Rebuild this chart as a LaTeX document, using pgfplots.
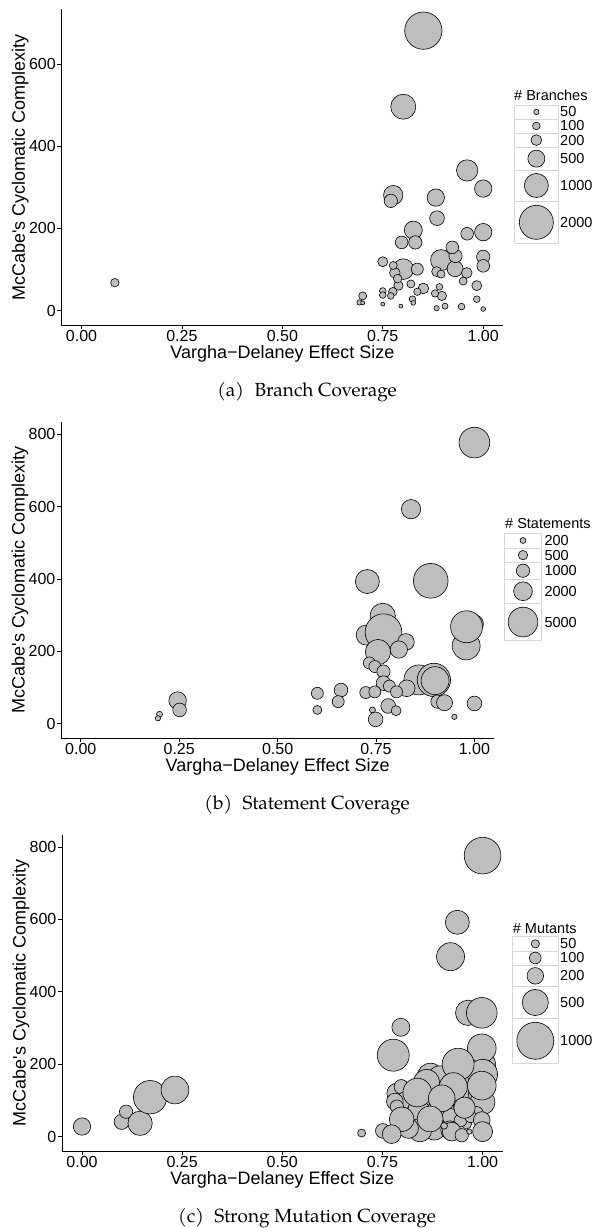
\documentclass[border=0pt]{standalone}
\usepackage{fontspec}
\setmainfont{Liberation Sans}
\IfFontExistsTF{TeX Gyre Pagella}{\newfontfamily\capfont{TeX Gyre Pagella}}{\newfontfamily\capfont{Liberation Serif}}
\usepackage{pgfplots}
\pgfplotsset{compat=1.18}
\usepackage{pgfplotstable}

\definecolor{bub}{HTML}{BEBEBE}
\definecolor{keyb}{HTML}{D6D6D6}
\newcommand\legfont{\fontsize{14.5}{17}\selectfont}
\newcommand\capt[1]{\capfont\fontsize{19}{23}\selectfont #1}

\pgfplotsset{
  panel/.style={
    scale only axis, anchor=south west,
    axis lines=left,
    axis line style={-, black, line width=0.9pt},
    xmin=-0.05, xmax=1.05,
    xtick={0,0.25,0.5,0.75,1},
    xticklabels={0.00,0.25,0.50,0.75,1.00},
    tick align=outside,
    major tick length=4pt,
    tick style={black, line width=0.7pt},
    tick label style={font=\fontsize{16}{18}\selectfont, text=black},
    xticklabel style={inner sep=1pt},
    yticklabel style={inner sep=1.5pt},
    xlabel={Vargha−Delaney Effect Size},
    ylabel={McCabe\textquotesingle s Cyclomatic Complexity},
    label style={font=\fontsize{18}{21}\selectfont},
  },
  bubble/.style={
    scatter, only marks, mark=*,
    scatter/use mapped color={draw=black, fill=bub},
    mark options={line width=0.6pt},
    visualization depends on={#1*sqrt(\thisrow{v}) \as \perpointmarksize},
    scatter/@pre marker code/.append style={/tikz/mark size=\perpointmarksize},
  },
  legax/.style={scale only axis, hide axis, clip=false, anchor=south west},
}

\pgfplotstableread{
x y v
0.851 681 2410
0.801 496 1082
0.960 341 786
0.895 123 763
0.801 101 740
0.776 281 647
0.826 196 561
1.000 297 520
0.882 275 520
1.000 191 520
0.930 102 443
0.885 225 373
0.770 267 307
0.831 166 307
0.931 133 307
1.000 131 307
0.960 187 278
0.797 166 278
0.923 154 278
1.000 109 278
0.836 101 249
0.780 92 197
0.959 92 197
0.851 54 197
0.750 119 173
0.884 95 173
0.984 61 173
0.789 61 150
0.897 36 150
0.787 78 130
0.775 46 130
0.776 110 111
0.895 89 111
0.820 65 111
0.950 72 111
0.700 36 111
0.083 68 125
0.836 46 93
0.880 42 93
0.891 58 77
0.750 48 77
0.750 38 77
0.770 36 77
0.824 28 77
0.946 10 77
0.984 28 77
0.905 11 62
0.692 20 49
0.884 6 49
0.826 19 38
1.000 4 38
0.700 19 28
0.750 16 28
0.795 11 28
}\dataA

\pgfplotstableread{
x y v
1.000 777 5340
0.839 593 2110
0.728 393 3265
0.889 395 6820
0.767 298 3630
0.725 245 2268
0.769 253 7630
0.755 198 3630
0.826 226 1580
0.808 205 1700
0.979 215 4440
1.000 276 1840
0.980 268 5800
0.733 168 816
0.747 158 816
0.769 144 1000
0.859 121 5100
0.897 121 6300
0.900 119 4440
0.769 112 1220
0.784 104 816
0.828 98 1580
0.802 88 816
0.724 86 816
0.747 88 816
0.906 61 1000
0.924 58 1450
1.000 56 1220
0.781 49 1220
0.801 36 567
0.741 38 204
0.749 12 1220
0.949 19 160
0.601 84 816
0.601 38 460
0.661 93 1060
0.654 61 816
0.246 64 1740
0.251 38 1060
0.200 26 204
0.196 15 160
}\dataB

\pgfplotstableread{
x y v
0.960 150 500
1.000 200 500
0.990 160 550
0.910 120 600
0.870 166 520
0.894 157 573
0.860 150 500
0.830 95 500
0.860 90 450
0.950 110 450
0.880 60 400
0.900 75 400
0.810 60 350
0.786 120 292
0.797 138 150
0.806 101 200
0.781 97 203
0.786 83 130
0.840 74 332
0.995 120 450
1.000 95 450
0.985 65 130
0.960 35 73
0.880 20 330
0.920 55 200
0.945 45 120
0.970 55 100
0.844 18 397
0.815 23 292
0.919 18 255
1.000 776 984
0.937 592 421
0.920 497 573
0.964 342 468
0.998 342 688
0.796 302 237
0.777 225 748
0.998 244 601
1.000 172 657
0.939 200 748
0.998 141 601
0.927 138 573
0.837 122 601
0.898 106 520
0.955 80 332
0.798 48 445
0.869 49 494
0.998 46 203
1.000 14 292
0.923 14 255
0.751 16 157
0.773 7 255
0.948 4 130
0.904 30 33
0.967 14 21
0.698 10 47
0.000 28 220
0.099 41 169
0.110 69 129
0.145 37 432
0.170 109 815
0.232 129 565
}\dataC

\begin{document}
\begin{tikzpicture}
\useasboundingbox (0pt,0pt) rectangle (595pt,1228pt);

% ---------- panel (a)
\begin{axis}[panel, at={(61.4pt,902.5pt)}, width=441.9pt, height=316.1pt,
  ymin=-36, ymax=732.7, ytick={0,200,400,600}, yticklabels={0,200,400,600},
  xlabel style={at={(axis description cs:0.5,-0.106)}, anchor=base},
  ylabel style={at={(axis description cs:-0.0825,0.5)}, anchor=base}]
  \addplot[bubble=0.38] table {\dataA};
\end{axis}
\begin{axis}[legax, at={(514pt,984.3pt)}, width=44.7pt, height=138.7pt,
  xmin=0, xmax=44.7, ymin=0, ymax=138.7]
  \draw[keyb, line width=0.7pt] (axis cs:0,124.7) rectangle (axis cs:44.7,138.7);
  \draw[keyb, line width=0.7pt] (axis cs:0,110.7) rectangle (axis cs:44.7,124.7);
  \draw[keyb, line width=0.7pt] (axis cs:0,96.4) rectangle (axis cs:44.7,110.7);
  \draw[keyb, line width=0.7pt] (axis cs:0,73.7) rectangle (axis cs:44.7,96.4);
  \draw[keyb, line width=0.7pt] (axis cs:0,42.7) rectangle (axis cs:44.7,73.7);
  \draw[keyb, line width=0.7pt] (axis cs:0,0) rectangle (axis cs:44.7,42.7);
  \addplot[bubble=0.38] table {
x y v
22.35 131.7 50
22.35 117.7 100
22.35 103.55 200
22.35 85.05 500
22.35 58.2 1000
22.35 21.35 2000
};
  \node[anchor=west, inner sep=0pt, font=\legfont] at (axis cs:46,131.7) {50};
  \node[anchor=west, inner sep=0pt, font=\legfont] at (axis cs:46,117.7) {100};
  \node[anchor=west, inner sep=0pt, font=\legfont] at (axis cs:46,103.55) {200};
  \node[anchor=west, inner sep=0pt, font=\legfont] at (axis cs:46,85.05) {500};
  \node[anchor=west, inner sep=0pt, font=\legfont] at (axis cs:46,58.2) {1000};
  \node[anchor=west, inner sep=0pt, font=\legfont] at (axis cs:46,21.35) {2000};
  \node[anchor=west, inner sep=0pt, font=\legfont] at (axis cs:0,148) {\# Branches};
\end{axis}
\node[anchor=base] at (307pt,831.3pt) {\capt{(a)\hspace{0.55em}Branch Coverage}};

% ---------- panel (b)
\begin{axis}[panel, at={(61.1pt,490pt)}, width=433pt, height=316.3pt,
  ymin=-39.5, ymax=834.8, ytick={0,200,400,600,800}, yticklabels={0,200,400,600,800},
  xlabel style={at={(axis description cs:0.5,-0.1059)}, anchor=base},
  ylabel style={at={(axis description cs:-0.0842,0.5)}, anchor=base}]
  \addplot[bubble=0.21] table {\dataB};
\end{axis}
\begin{axis}[legax, at={(504.3pt,587.2pt)}, width=37.4pt, height=107.8pt,
  xmin=0, xmax=37.4, ymin=0, ymax=107.8]
  \draw[keyb, line width=0.7pt] (axis cs:0,92.8) rectangle (axis cs:37.4,107.8);
  \draw[keyb, line width=0.7pt] (axis cs:0,78.5) rectangle (axis cs:37.4,92.8);
  \draw[keyb, line width=0.7pt] (axis cs:0,61.6) rectangle (axis cs:37.4,78.5);
  \draw[keyb, line width=0.7pt] (axis cs:0,37.5) rectangle (axis cs:37.4,61.6);
  \draw[keyb, line width=0.7pt] (axis cs:0,0) rectangle (axis cs:37.4,37.5);
  \addplot[bubble=0.21] table {
x y v
18.7 100.3 200
18.7 85.65 500
18.7 70.05 1000
18.7 49.55 2000
18.7 18.75 5000
};
  \node[anchor=west, inner sep=0pt, font=\legfont] at (axis cs:40,100.3) {200};
  \node[anchor=west, inner sep=0pt, font=\legfont] at (axis cs:40,85.65) {500};
  \node[anchor=west, inner sep=0pt, font=\legfont] at (axis cs:40,70.05) {1000};
  \node[anchor=west, inner sep=0pt, font=\legfont] at (axis cs:40,49.55) {2000};
  \node[anchor=west, inner sep=0pt, font=\legfont] at (axis cs:40,18.75) {5000};
  \node[anchor=west, inner sep=0pt, font=\legfont] at (axis cs:0.7,117.5) {\# Statements};
\end{axis}
\node[anchor=base] at (307pt,418.7pt) {\capt{(b)\hspace{0.55em}Statement Coverage}};

% ---------- panel (c)
\begin{axis}[panel, at={(62pt,77pt)}, width=440.6pt, height=316pt,
  ymin=-39.5, ymax=833, ytick={0,200,400,600,800}, yticklabels={0,200,400,600,800},
  xlabel style={at={(axis description cs:0.5,-0.106)}, anchor=base},
  ylabel style={at={(axis description cs:-0.0828,0.5)}, anchor=base}]
  \addplot[bubble=0.585] table {\dataC};
\end{axis}
\begin{axis}[legax, at={(512.3pt,164.7pt)}, width=46pt, height=126.6pt,
  xmin=0, xmax=46, ymin=0, ymax=126.6]
  \draw[keyb, line width=0.7pt] (axis cs:0,112.3) rectangle (axis cs:46,126.6);
  \draw[keyb, line width=0.7pt] (axis cs:0,98.3) rectangle (axis cs:46,112.3);
  \draw[keyb, line width=0.7pt] (axis cs:0,76.6) rectangle (axis cs:46,98.3);
  \draw[keyb, line width=0.7pt] (axis cs:0,45) rectangle (axis cs:46,76.6);
  \draw[keyb, line width=0.7pt] (axis cs:0,0) rectangle (axis cs:46,45);
  \addplot[bubble=0.585] table {
x y v
23 119.45 50
23 105.3 100
23 87.45 200
23 60.8 500
23 22.5 1000
};
  \node[anchor=west, inner sep=0pt, font=\legfont] at (axis cs:47.7,119.45) {50};
  \node[anchor=west, inner sep=0pt, font=\legfont] at (axis cs:47.7,105.3) {100};
  \node[anchor=west, inner sep=0pt, font=\legfont] at (axis cs:47.7,87.45) {200};
  \node[anchor=west, inner sep=0pt, font=\legfont] at (axis cs:47.7,60.8) {500};
  \node[anchor=west, inner sep=0pt, font=\legfont] at (axis cs:47.7,22.5) {1000};
  \node[anchor=west, inner sep=0pt, font=\legfont] at (axis cs:0.4,135) {\# Mutants};
\end{axis}
\node[anchor=base] at (307pt,5.7pt) {\capt{(c)\hspace{0.55em}Strong Mutation Coverage}};
\end{tikzpicture}
\end{document}
